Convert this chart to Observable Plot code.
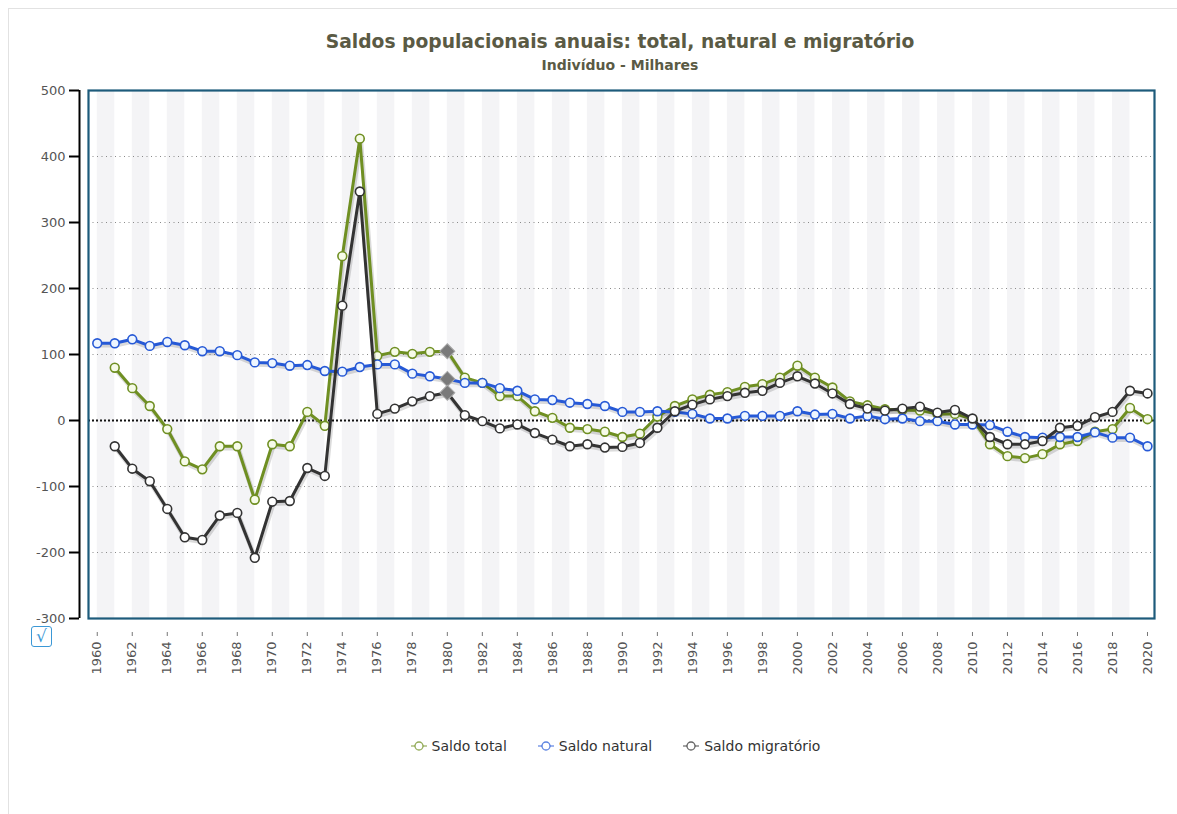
<!DOCTYPE html>
<html>
<head>
<meta charset="utf-8">
<script src="https://cdn.jsdelivr.net/npm/d3@7"></script>
<script src="https://cdn.jsdelivr.net/npm/@observablehq/plot@0.6"></script>
<style>
  html, body { margin: 0; padding: 0; background: #fff; }
  body { width: 1177px; height: 814px; position: relative; overflow: hidden; font-family: "DejaVu Sans", Verdana, sans-serif; }
  #outer { position: absolute; left: 8px; top: 8px; width: 1200px; height: 900px; border: 1px solid #e2e2e2; box-sizing: border-box; }
  #title { position: absolute; left: 0; top: 31px; width: 1240px; text-align: center; font-weight: bold; font-size: 18.7px; color: #5a5a44; }
  #subtitle { position: absolute; left: 0; top: 57px; width: 1240px; text-align: center; font-weight: bold; font-size: 14px; color: #5a5a44; }
  #chart { position: absolute; left: 0; top: 0; }
  #check { position: absolute; left: 31px; top: 626px; width: 19px; height: 19px; border: 1.5px solid #3b98d6; border-radius: 3px; color: #3b98d6; font-size: 17px; line-height: 19px; text-align: center; box-sizing: content-box; }
  #legend { position: absolute; left: 0; top: 738px; width: 1230px; display: flex; justify-content: center; gap: 30px; font-size: 14px; color: #333; }
  .item { display: flex; align-items: center; gap: 4px; }
</style>
</head>
<body>
<div id="outer"></div>
<div id="title">Saldos populacionais anuais: total, natural e migratório</div>
<div id="subtitle">Indivíduo - Milhares</div>
<div id="chart"></div>
<div id="check">√</div>
<div id="legend"></div>
<script>
const years = [1960,1961,1962,1963,1964,1965,1966,1967,1968,1969,
  1970,1971,1972,1973,1974,1975,1976,1977,1978,1979,
  1980,1981,1982,1983,1984,1985,1986,1987,1988,1989,
  1990,1991,1992,1993,1994,1995,1996,1997,1998,1999,
  2000,2001,2002,2003,2004,2005,2006,2007,2008,2009,
  2010,2011,2012,2013,2014,2015,2016,2017,2018,2019,2020];

const saldoTotal = [null,80,49,22,-13,-62,-74,-39,-39,-120,
  -36,-39,13,-8,249,427,98,104,101,104,
  105,65,57,37,37,14,4,-11,-13,-17,
  -25,-20,6,22,32,39,43,51,55,65,
  83,65,50,29,23,17,16,15,10,10,
  2,-36,-54,-57,-51,-36,-31,-17,-13,19,2];

const saldoNatural = [117,117,123,113,119,114,105,105,99,88,
  87,83,84,75,74,81,85,85,71,67,
  63,57,57,49,45,32,31,27,25,22,
  13,13,14,13,10,3,3,7,7,7,
  14,9,10,3,7,2,3,-1,-1,-6,
  -6,-7,-17,-25,-26,-25,-25,-18,-26,-26,-39];

const saldoMigratorio = [null,-39,-73,-92,-134,-177,-181,-144,-140,-208,
  -123,-122,-72,-84,174,347,10,18,29,37,
  42,8,-1,-12,-6,-19,-29,-39,-36,-41,
  -40,-34,-11,14,24,32,37,42,45,57,
  67,56,41,25,18,15,18,21,12,16,
  3,-25,-36,-36,-31,-11,-8,5,13,45,41];

const seriesNames = ["Saldo total", "Saldo natural", "Saldo migratório"];
const seriesColors = ["#6f8f22", "#2659d6", "#333333"];
const seriesDotFill = ["#f6fbe8", "#eef6ff", "#ffffff"];
const xTickYears = [1960,1962,1964,1966,1968,1970,1972,1974,1976,1978,1980,1982,1984,1986,1988,
  1990,1992,1994,1996,1998,2000,2002,2004,2006,2008,2010,2012,2014,2016,2018,2020];
const yTicks = [-300,-200,-100,0,100,200,300,400,500];
const gridValues = [-200,-100,100,200,300,400];
const highlightYear = 1980;

const allValues = [saldoTotal, saldoNatural, saldoMigratorio];
const rows = [];
allValues.forEach((vals, si) => {
  vals.forEach((v, i) => {
    if (v !== null) rows.push({year: years[i], value: v, series: seriesNames[si]});
  });
});

const stripeYears = years.filter(y => y % 2 === 0 && y < 2020);

const marks = [
  Plot.rect(stripeYears, {x1: d => d, x2: d => d + 1, fill: "#f4f4f6"}),
  Plot.ruleY(gridValues, {stroke: "#8a8a8a", strokeDasharray: "1,3.5", strokeWidth: 1}),
  Plot.ruleY([0], {stroke: "#111", strokeWidth: 2, strokeDasharray: "2,2"})
];

seriesNames.forEach((name, si) => {
  const d = rows.filter(r => r.series === name);
  marks.push(Plot.line(d, {x: "year", y: "value", stroke: "#000", strokeOpacity: 0.14, strokeWidth: 4.5, dx: 1, dy: 2}));
  marks.push(Plot.line(d, {x: "year", y: "value", stroke: seriesColors[si], strokeWidth: 3}));
  marks.push(Plot.dot(d.filter(r => r.year !== highlightYear), {x: "year", y: "value", r: 4.4, fill: seriesDotFill[si], stroke: seriesColors[si], strokeWidth: 1.6}));
});

marks.push(Plot.dot(rows.filter(r => r.year === highlightYear), {x: "year", y: "value", symbol: "square", rotate: 45, r: 6, fill: "#7a7a7a", stroke: "#a8a8a8", strokeWidth: 1}));

marks.push(Plot.frame({stroke: "#1d5b7b", strokeWidth: 2.2}));
marks.push(Plot.ruleX([1959.5], {y1: -300, y2: 500, dx: -9, stroke: "#000", strokeWidth: 2}));
marks.push(Plot.axisY(yTicks, {anchor: "left", label: null, tickSize: 10, tickPadding: 4, dx: -9, stroke: "#000", strokeWidth: 2, fill: "#555", fontSize: 13, tickFormat: d => String(d)}));
marks.push(Plot.axisX(xTickYears, {anchor: "bottom", label: null, tickSize: 4, tickPadding: 5, dy: 14, tickRotate: -90, stroke: "#777", fill: "#555", fontSize: 13, tickFormat: d => String(d)}));

const chart = Plot.plot({
  width: 1177,
  height: 700,
  marginLeft: 88,
  marginRight: 23,
  marginTop: 90,
  marginBottom: 82,
  style: {fontFamily: "DejaVu Sans, Verdana, sans-serif", fontSize: "13px", background: "transparent", overflow: "visible"},
  x: {type: "linear", domain: [1959.5, 2020.4], axis: null, label: null},
  y: {domain: [-300, 500], axis: null, label: null},
  marks
});
document.getElementById("chart").appendChild(chart);

// legend
const legend = document.getElementById("legend");
seriesNames.forEach((name, si) => {
  const item = document.createElement("div");
  item.className = "item";
  const ns = "http://www.w3.org/2000/svg";
  const svg = document.createElementNS(ns, "svg");
  svg.setAttribute("width", "18"); svg.setAttribute("height", "12");
  const line = document.createElementNS(ns, "line");
  line.setAttribute("x1", "1"); line.setAttribute("x2", "17"); line.setAttribute("y1", "6"); line.setAttribute("y2", "6");
  line.setAttribute("stroke", seriesColors[si]); line.setAttribute("stroke-opacity", "0.6"); line.setAttribute("stroke-width", "1.5");
  const c = document.createElementNS(ns, "circle");
  c.setAttribute("cx", "9"); c.setAttribute("cy", "6"); c.setAttribute("r", "4");
  c.setAttribute("fill", "#fff"); c.setAttribute("stroke", seriesColors[si]); c.setAttribute("stroke-opacity", "0.75"); c.setAttribute("stroke-width", "1.3");
  svg.appendChild(line); svg.appendChild(c);
  const span = document.createElement("span");
  span.textContent = name;
  item.appendChild(svg); item.appendChild(span);
  legend.appendChild(item);
});
</script>
</body>
</html>
